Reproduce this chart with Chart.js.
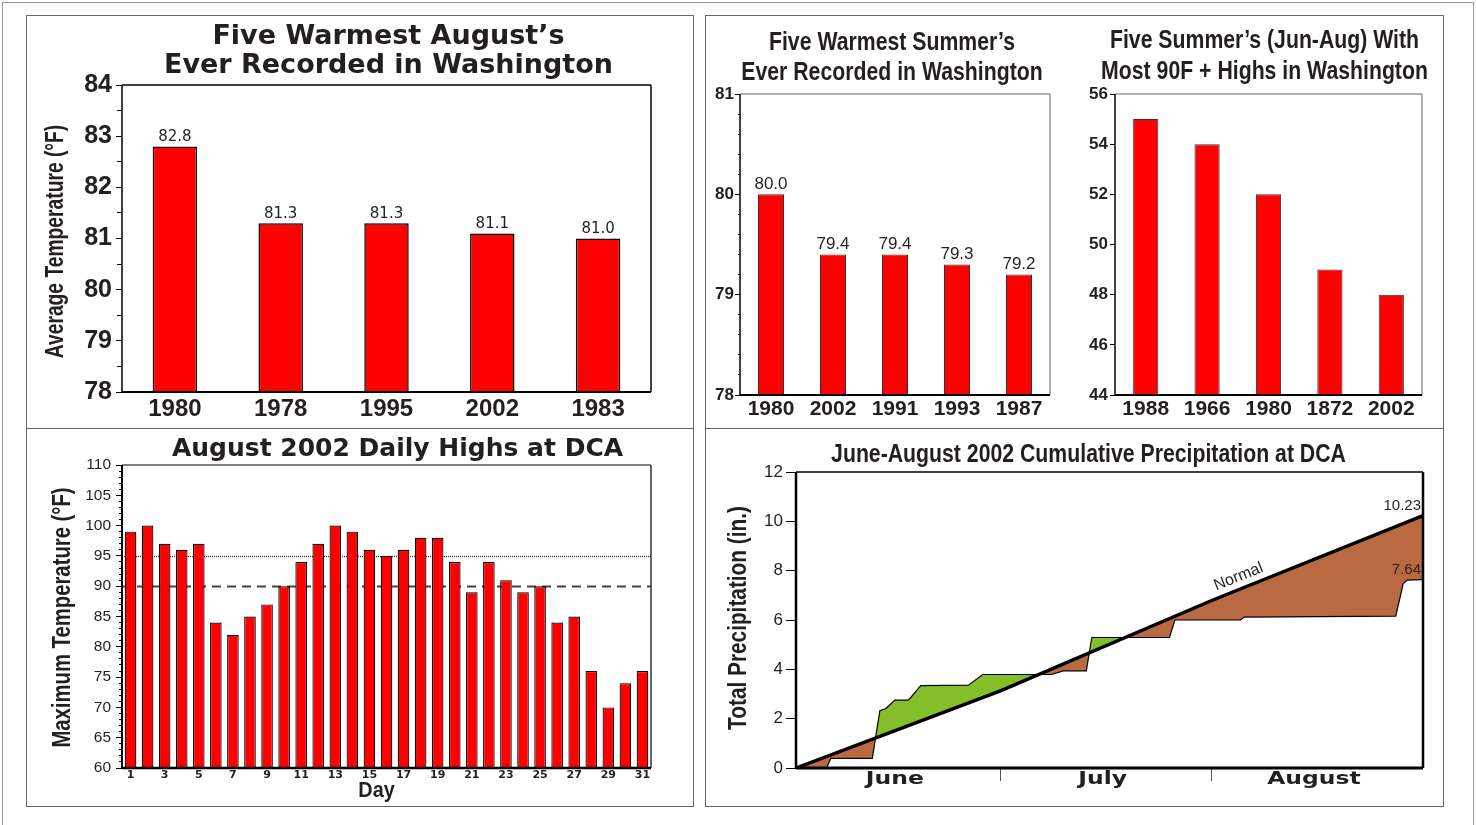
<!DOCTYPE html>
<html>
<head>
<meta charset="UTF-8">
<title>Washington Summer 2002</title>
<script src="https://cdn.jsdelivr.net/npm/chart.js@4.4.1/dist/chart.umd.min.js"></script>
<style>
  body { margin: 0; background: #fff; }
  #page { position: relative; width: 1476px; height: 825px; overflow: hidden; }
  .box { position: absolute; border: 1px solid #666; box-sizing: border-box; }
  canvas { position: absolute; }
</style>
</head>
<body>
<div id="page">
  <div class="box" style="left:2px;top:2px;width:1472px;height:860px;border-color:#999"></div>
  <div class="box" style="left:26px;top:15px;width:668px;height:414px"></div>
  <div class="box" style="left:26px;top:428px;width:668px;height:379px"></div>
  <div class="box" style="left:705px;top:15px;width:739px;height:414px"></div>
  <div class="box" style="left:705px;top:428px;width:739px;height:379px"></div>

  <canvas id="c1" style="left:27px;top:16px" width="665" height="411"></canvas>
  <canvas id="c2" style="left:706px;top:16px" width="372" height="411"></canvas>
  <canvas id="c3" style="left:1078px;top:16px" width="364" height="411"></canvas>
  <canvas id="c4" style="left:27px;top:429px" width="665" height="376"></canvas>
  <canvas id="c5" style="left:706px;top:429px" width="736" height="376"></canvas>
</div>

<script>
// ---- data ----
// five warmest Augusts
var augYears = ['1980', '1978', '1995', '2002', '1983'];
var augTemps = [82.8, 81.3, 81.3, 81.1, 81.0];

// five warmest summers
var summerYears = ['1980', '2002', '1991', '1993', '1987'];
var summerTemps = [80.0, 79.4, 79.4, 79.3, 79.2];

// summers with most 90F+ highs
var hotYears = ['1988', '1966', '1980', '1872', '2002'];
var hotDays = [55, 54, 52, 49, 48];

// August 2002 daily highs
var augDays = [1, 2, 3, 4, 5, 6, 7, 8, 9, 10, 11, 12, 13, 14, 15, 16,
               17, 18, 19, 20, 21, 22, 23, 24, 25, 26, 27, 28, 29, 30, 31];
var augHighs = [99, 100, 97, 96, 97, 84, 82, 85, 87, 90, 94, 97, 100, 99, 96, 95,
                96, 98, 98, 94, 89, 94, 91, 89, 90, 84, 85, 76, 70, 74, 76];
var refLineValues = [95, 90];

// cumulative precipitation, day 0 = June 1, day 92 = Aug 31
var normalDay = [0, 30, 61, 92];
var normalPrecip = [0, 3.13, 6.79, 10.23];
var obsDay = [0, 4.5, 5.1, 11.2, 12.3, 13.2, 14.5, 16.5, 18.3, 25.3, 27.4, 37.5,
              39.2, 42.6, 43.4, 54.8, 55.6, 65.2, 65.8, 88.0, 89.1, 89.7, 92];
var obsPrecip = [0, 0, 0.39, 0.39, 2.32, 2.41, 2.75, 2.75, 3.34, 3.36, 3.79, 3.79,
                 3.94, 3.94, 5.29, 5.29, 6.0, 6.0, 6.12, 6.16, 7.48, 7.62, 7.64];
var monthNames = ['June', 'July', 'August'];
var monthMid = [14.5, 45, 76];
var monthEnd = [30, 61];

// ---- common ----
var TEXT = '#231f20';
var ARIAL = "'Liberation Sans', Arial, sans-serif";
var WIDE = "'DejaVu Sans', Verdana, sans-serif";

Chart.defaults.font.family = ARIAL;
Chart.defaults.color = TEXT;
Chart.defaults.animation = false;
Chart.defaults.plugins.legend.display = false;
Chart.defaults.plugins.tooltip.enabled = false;

function fixWidth(w) { return function (s) { s.width = w; }; }
function fixHeight(h) { return function (s) { s.height = h; }; }

// draw one line of text, optionally rotated and squeezed along its length
function squeezedText(ctx, text, x, y, rot, sx) {
  ctx.save();
  ctx.translate(x, y);
  if (rot) ctx.rotate(rot * Math.PI / 180);
  ctx.scale(sx || 1, 1);
  ctx.fillText(text, 0, 0);
  ctx.restore();
}

// title lines centred over the plot area
var heading = {
  id: 'heading',
  afterDraw: function (chart, args, o) {
    var ctx = chart.ctx, a = chart.chartArea;
    var cx = (a.left + a.right) / 2 + (o.dx || 0);
    ctx.save();
    ctx.font = o.textFont;
    ctx.fillStyle = TEXT;
    ctx.textAlign = 'center';
    ctx.textBaseline = 'middle';
    for (var i = 0; i < o.lines.length; i++) squeezedText(ctx, o.lines[i], cx, o.y[i], 0, o.sx);
    ctx.restore();
  }
};

// axis titles (condensed type in the original)
var axisTitles = {
  id: 'axisTitles',
  afterDraw: function (chart, args, o) {
    var ctx = chart.ctx, a = chart.chartArea;
    ctx.save();
    ctx.fillStyle = TEXT;
    ctx.textAlign = 'center';
    ctx.textBaseline = 'middle';
    o.items.forEach(function (t) {
      ctx.font = t.textFont;
      var x = t.x != null ? t.x : (a.left + a.right) / 2 + (t.dx || 0);
      var y = t.y != null ? t.y : (a.top + a.bottom) / 2 + (t.dy || 0);
      squeezedText(ctx, t.text, x, y, t.rot, t.sx);
    });
    ctx.restore();
  }
};

// box round the plot area, each side [width, colour]
var frame = {
  id: 'frame',
  afterDatasetsDraw: function (chart, args, o) {
    var ctx = chart.ctx, a = chart.chartArea;
    function side(s, x1, y1, x2, y2) {
      if (!s) return;
      ctx.beginPath();
      ctx.lineWidth = s[0];
      ctx.strokeStyle = s[1];
      ctx.moveTo(x1, y1);
      ctx.lineTo(x2, y2);
      ctx.stroke();
    }
    ctx.save();
    side(o.top, a.left, a.top, a.right, a.top);
    side(o.right, a.right, a.top, a.right, a.bottom);
    side(o.bottom, a.left, a.bottom, a.right, a.bottom);
    side(o.left, a.left, a.top, a.left, a.bottom);
    ctx.restore();
  }
};

// numbers above the bars
var valueLabels = {
  id: 'valueLabels',
  afterDatasetsDraw: function (chart, args, o) {
    var ctx = chart.ctx;
    var meta = chart.getDatasetMeta(0);
    var vals = chart.data.datasets[0].data;
    ctx.save();
    ctx.font = o.textFont;
    ctx.fillStyle = TEXT;
    ctx.textAlign = 'center';
    ctx.textBaseline = 'bottom';
    meta.data.forEach(function (bar, i) {
      ctx.fillText(vals[i].toFixed(1), bar.x, bar.y - o.gap);
    });
    ctx.restore();
  }
};

// 95 dotted / 90 dashed reference lines
var refLines = {
  id: 'refLines',
  beforeDatasetsDraw: function (chart, args, o) {
    var ctx = chart.ctx, a = chart.chartArea, y = chart.scales.y;
    ctx.save();
    refLineValues.forEach(function (v, i) {
      var py = Math.round(y.getPixelForValue(v)) + 0.5;
      ctx.beginPath();
      ctx.lineWidth = o.widths[i];
      ctx.strokeStyle = o.colors[i];
      ctx.setLineDash(o.dashes[i]);
      ctx.moveTo(a.left, py);
      ctx.lineTo(a.right, py);
      ctx.stroke();
    });
    ctx.restore();
  }
};

// month names, end values and the "Normal" label
var precipNotes = {
  id: 'precipNotes',
  afterDatasetsDraw: function (chart, args, o) {
    var ctx = chart.ctx, a = chart.chartArea;
    var xs = chart.scales.x, ys = chart.scales.y;
    ctx.save();
    ctx.fillStyle = TEXT;

    ctx.font = o.monthFont;
    ctx.textAlign = 'center';
    ctx.textBaseline = 'middle';
    monthNames.forEach(function (m, i) {
      squeezedText(ctx, m, xs.getPixelForValue(monthMid[i]), a.bottom + o.monthGap, 0, o.monthSx);
    });

    ctx.font = o.endFont;
    ctx.textAlign = 'right';
    ctx.textBaseline = 'bottom';
    chart.data.datasets.forEach(function (ds) {
      var last = ds.data[ds.data.length - 1];
      ctx.fillText(last.y.toFixed(2), a.right - 2, ys.getPixelForValue(last.y) - 2);
    });

    var n = chart.data.datasets[0].data;
    var p0 = n[n.length - 2], p1 = n[n.length - 1];
    var x0 = xs.getPixelForValue(p0.x), y0 = ys.getPixelForValue(p0.y);
    var x1 = xs.getPixelForValue(p1.x), y1 = ys.getPixelForValue(p1.y);
    var t = (o.normalAt - p0.x) / (p1.x - p0.x);
    ctx.translate(x0 + (x1 - x0) * t, y0 + (y1 - y0) * t);
    ctx.rotate(Math.atan2(y1 - y0, x1 - x0));
    ctx.font = o.normalFont;
    ctx.textAlign = 'center';
    ctx.fillText('Normal', 0, -4);
    ctx.restore();
  }
};

function minorAxis(min, max, step, len) {
  return {
    type: 'linear', position: 'left', weight: 0, min: min, max: max,
    ticks: { display: false, stepSize: step, autoSkip: false },
    grid: { drawOnChartArea: false, tickLength: len, color: '#000', tickWidth: 1 },
    border: { display: false },
    afterFit: fixWidth(0)
  };
}

// ---- chart 1: warmest Augusts ----
new Chart(document.getElementById('c1'), {
  type: 'bar',
  data: {
    labels: augYears,
    datasets: [{
      data: augTemps,
      backgroundColor: '#ff0000',
      borderColor: '#000',
      borderWidth: 1.5,
      borderSkipped: false,
      barPercentage: 0.42,
      categoryPercentage: 1
    }]
  },
  options: {
    responsive: false,
    layout: { padding: { left: 0, top: 69, right: 41, bottom: 1 } },
    scales: {
      x: {
        grid: { display: false, drawTicks: false },
        border: { display: false },
        ticks: { font: { size: 24, weight: 'bold', lineHeight: 1.2 }, padding: 3 },
        afterFit: fixHeight(34)
      },
      y: {
        min: 78, max: 84, weight: 1,
        ticks: { stepSize: 1, autoSkip: false, padding: 4, font: { size: 25, weight: 'bold' } },
        grid: { drawOnChartArea: false, tickLength: 6, color: '#000' },
        border: { display: false },
        afterFit: fixWidth(95)
      },
      ym: minorAxis(78, 84, 0.5, 5)
    },
    plugins: {
      heading: { lines: ['Five Warmest August’s', 'Ever Recorded in Washington'],
                 textFont: 'bold 27px ' + WIDE, y: [21, 50], dx: 2 },
      axisTitles: { items: [{ text: 'Average Temperature (°F)', textFont: 'bold 25px ' + ARIAL,
                              x: 29, dy: 3, rot: -90, sx: 0.77 }] },
      frame: { top: [1.5, '#000'], right: [1.5, '#000'], bottom: [2, '#000'], left: [1.5, '#000'] },
      valueLabels: { textFont: '15px ' + WIDE, gap: 2 }
    }
  },
  plugins: [heading, axisTitles, frame, valueLabels]
});

// ---- chart 2: warmest summers ----
new Chart(document.getElementById('c2'), {
  type: 'bar',
  data: {
    labels: summerYears,
    datasets: [{
      data: summerTemps,
      backgroundColor: '#ff0000',
      borderColor: '#333',
      borderWidth: 1,
      borderSkipped: false,
      barPercentage: 0.42,
      categoryPercentage: 1
    }]
  },
  options: {
    responsive: false,
    layout: { padding: { left: 0, top: 78, right: 28, bottom: 2 } },
    scales: {
      x: {
        grid: { display: false, drawTicks: false },
        border: { display: false },
        ticks: { font: { size: 21, weight: 'bold', lineHeight: 1.2 }, padding: 2 },
        afterFit: fixHeight(30)
      },
      y: {
        min: 78, max: 81, weight: 1,
        ticks: { stepSize: 1, autoSkip: false, padding: 1, font: { size: 17, weight: 'bold' } },
        grid: { drawOnChartArea: false, tickLength: 5, color: '#000' },
        border: { display: false },
        afterFit: fixWidth(34)
      },
      ym: minorAxis(78, 81, 0.2, 2)
    },
    plugins: {
      heading: { lines: ['Five Warmest Summer’s', 'Ever Recorded in Washington'],
                 textFont: 'bold 25px ' + ARIAL, y: [27, 57], dx: -3, sx: 0.85 },
      frame: { top: [1.5, '#999'], right: [1, '#666'], bottom: [2, '#000'], left: [1.5, '#000'] },
      valueLabels: { textFont: '17px ' + ARIAL, gap: 2 }
    }
  },
  plugins: [heading, frame, valueLabels]
});

// ---- chart 3: most 90F+ highs ----
new Chart(document.getElementById('c3'), {
  type: 'bar',
  data: {
    labels: hotYears,
    datasets: [{
      data: hotDays,
      backgroundColor: '#ff0000',
      borderColor: '#333',
      borderWidth: 1,
      borderSkipped: false,
      barPercentage: 0.41,
      categoryPercentage: 1
    }]
  },
  options: {
    responsive: false,
    layout: { padding: { left: 0, top: 78, right: 20, bottom: 2 } },
    scales: {
      x: {
        grid: { display: false, drawTicks: false },
        border: { display: false },
        ticks: { font: { size: 21, weight: 'bold', lineHeight: 1.2 }, padding: 2 },
        afterFit: fixHeight(30)
      },
      y: {
        min: 44, max: 56,
        ticks: { stepSize: 2, autoSkip: false, padding: 2, font: { size: 17, weight: 'bold' } },
        grid: { drawOnChartArea: false, tickLength: 5, color: '#000' },
        border: { display: false },
        afterFit: fixWidth(37)
      }
    },
    plugins: {
      heading: { lines: ['Five Summer’s (Jun-Aug) With', 'Most 90F + Highs in Washington'],
                 textFont: 'bold 25px ' + ARIAL, y: [25, 56], dx: -4, sx: 0.85 },
      frame: { top: [1.5, '#999'], right: [1, '#666'], bottom: [2, '#000'], left: [1.5, '#000'] }
    }
  },
  plugins: [heading, frame]
});

// ---- chart 4: August 2002 daily highs ----
new Chart(document.getElementById('c4'), {
  type: 'bar',
  data: {
    labels: augDays,
    datasets: [{
      data: augHighs,
      backgroundColor: '#ff0000',
      borderColor: '#000',
      borderWidth: 1.2,
      borderSkipped: false,
      barPercentage: 0.68,
      categoryPercentage: 1
    }]
  },
  options: {
    responsive: false,
    layout: { padding: { left: 0, top: 36, right: 41, bottom: 1 } },
    scales: {
      x: {
        grid: { display: false, drawTicks: false },
        border: { display: false },
        ticks: {
          autoSkip: false, maxRotation: 0, padding: 2,
          font: { family: WIDE, size: 11, weight: 'bold', lineHeight: 1 },
          callback: function (v, i) { return augDays[i] % 2 === 1 ? augDays[i] : ''; }
        },
        afterFit: fixHeight(36)
      },
      y: {
        min: 60, max: 110, weight: 1,
        ticks: { stepSize: 5, autoSkip: false, padding: 5, font: { size: 15.5 } },
        grid: { drawOnChartArea: false, tickLength: 6, color: '#000' },
        border: { display: false },
        afterFit: fixWidth(95)
      },
      ym: minorAxis(60, 110, 1, 3)
    },
    plugins: {
      heading: { lines: ['August 2002 Daily Highs at DCA'],
                 textFont: 'bold 25px ' + WIDE, y: [20], dx: 11 },
      axisTitles: { items: [
        { text: 'Maximum Temperature (°F)', textFont: 'bold 26px ' + ARIAL, x: 36, dy: 1, rot: -90, sx: 0.78 },
        { text: 'Day', textFont: 'bold 22px ' + ARIAL, y: 362, dx: -10, rot: 0, sx: 0.9 }
      ] },
      frame: { top: [1.5, '#555'], right: [1.5, '#333'], bottom: [2.5, '#000'], left: [2, '#000'] },
      refLines: { widths: [1.3, 1.8], colors: ['#333', '#444'], dashes: [[1, 1], [9, 6]] }
    }
  },
  plugins: [refLines, heading, axisTitles, frame]
});

// ---- chart 5: cumulative precipitation ----
new Chart(document.getElementById('c5'), {
  type: 'line',
  data: {
    datasets: [{
      data: normalDay.map(function (d, i) { return { x: d, y: normalPrecip[i] }; }),
      borderColor: '#000',
      borderWidth: 3.5,
      pointRadius: 0,
      tension: 0,
      fill: false
    }, {
      data: obsDay.map(function (d, i) { return { x: d, y: obsPrecip[i] }; }),
      borderColor: '#000',
      borderWidth: 1.2,
      pointRadius: 0,
      tension: 0,
      fill: { target: 0, above: '#84be28', below: '#b96a40' }
    }]
  },
  options: {
    responsive: false,
    layout: { padding: { left: 0, top: 43, right: 19, bottom: 1 } },
    scales: {
      x: {
        type: 'linear', min: 0, max: 92,
        afterBuildTicks: function (s) {
          s.ticks = monthEnd.map(function (v) { return { value: v }; });
        },
        ticks: { display: false },
        grid: { drawOnChartArea: false, tickLength: 13, tickWidth: 1, tickColor: '#555' },
        border: { display: false },
        afterFit: fixHeight(36)
      },
      y: {
        min: 0, max: 12,
        ticks: { stepSize: 2, autoSkip: false, padding: 3, font: { size: 17 } },
        grid: { drawOnChartArea: false, tickLength: 10, color: '#000' },
        border: { display: false },
        afterFit: fixWidth(90)
      }
    },
    plugins: {
      heading: { lines: ['June-August 2002 Cumulative Precipitation at DCA'],
                 textFont: 'bold 25px ' + ARIAL, y: [26], dx: -21, sx: 0.85 },
      axisTitles: { items: [{ text: 'Total Precipitation (in.)', textFont: 'bold 26px ' + ARIAL,
                              x: 33, dy: -2, rot: -90, sx: 0.8 }] },
      frame: { top: [1.5, '#000'], right: [2.5, '#000'], bottom: [3, '#000'], left: [2.5, '#000'] },
      precipNotes: { monthFont: 'bold 17px ' + WIDE, monthGap: 12, monthSx: 1.38,
                     endFont: '15px ' + ARIAL, normalFont: '16px ' + ARIAL, normalAt: 65.6 }
    }
  },
  plugins: [heading, axisTitles, frame, precipNotes]
});
</script>
</body>
</html>
